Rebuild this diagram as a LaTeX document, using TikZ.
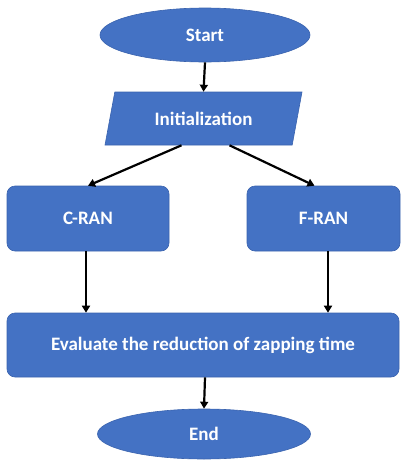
\documentclass[tikz,border=0pt]{standalone}
\usepackage{fontspec}
\setmainfont{Carlito}
\usetikzlibrary{shapes.geometric,arrows.meta}
\definecolor{boxblue}{HTML}{4472C4}
\definecolor{boxedge}{HTML}{3A63AE}
\begin{document}
\begin{tikzpicture}[x=1pt,y=-1pt,
  label text/.style={text=white,font=\fontsize{19}{22}\selectfont\bfseries},
  terminal/.style={ellipse,fill=boxblue,draw=boxedge,line width=0.6pt,inner sep=0pt,label text},
  iobox/.style={trapezium,trapezium left angle=54,trapezium right angle=126,trapezium stretches body,
    fill=boxblue,draw=boxedge,line width=0.6pt,inner sep=0pt,label text},
  procbox/.style={rectangle,rounded corners=8pt,fill=boxblue,draw=boxedge,line width=0.6pt,inner sep=0pt,label text},
  flow/.style={draw=black,line width=2.2pt,-{Triangle[width=8pt,length=7pt]}}]
  \useasboundingbox (0,0) rectangle (408,461);
  % terminals, input step, processes
  \node[terminal,minimum width=210pt,minimum height=54pt] (start) at (205,35) {Start};
  \node[iobox,minimum width=197pt,minimum height=53pt] (init) at (203.5,118.5) {Initialization};
  \node[procbox,minimum width=162pt,minimum height=65pt] (cran) at (88,218.5) {C-RAN};
  \node[procbox,minimum width=153pt,minimum height=65pt] (fran) at (323.5,218.5) {F-RAN};
  \node[procbox,minimum width=392pt,minimum height=64pt] (eval) at (203,345) {Evaluate the reduction of zapping time};
  \node[terminal,minimum width=213pt,minimum height=50pt] (end) at (204,434) {End};
  % connectors
  \draw[flow] (start.south) -- (init.north);
  \draw[flow] ([xshift=-22pt]init.south) -- (cran.north);
  \draw[flow] ([xshift=26pt]init.south) -- ([xshift=-9pt]fran.north);
  \draw[flow] ([xshift=-2pt]cran.south) -- ([xshift=-117pt]eval.north);
  \draw[flow] ([xshift=4.5pt]fran.south) -- ([xshift=125pt]eval.north);
  \draw[flow] ([xshift=2pt]eval.south) -- (end.north);
\end{tikzpicture}
\end{document}
